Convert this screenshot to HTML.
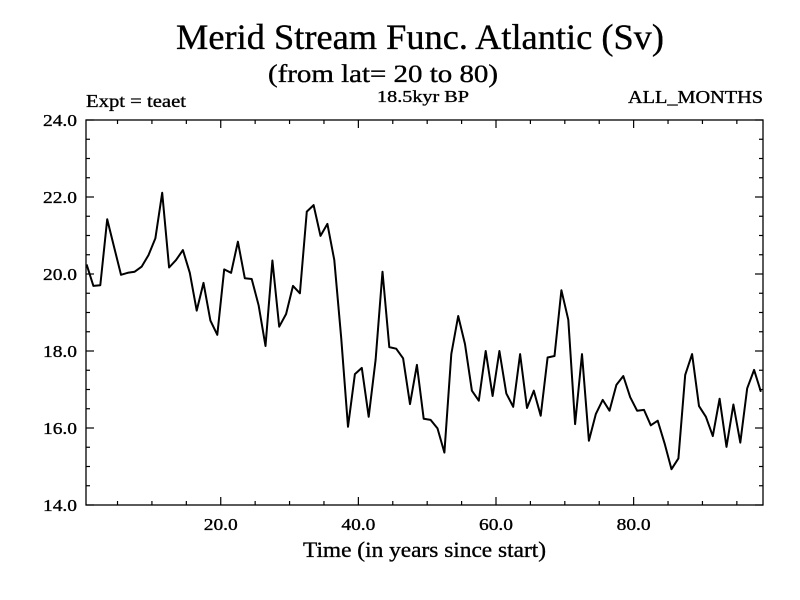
<!DOCTYPE html>
<html><head><meta charset="utf-8"><style>
html,body{margin:0;padding:0;background:#fff;}
svg{display:block;font-family:"Liberation Serif",serif;}
svg text{stroke:#000;stroke-width:0.35px;}
</style></head><body>
<svg id="chart" width="800" height="600" xmlns="http://www.w3.org/2000/svg">
<rect width="800" height="600" fill="#fff"/>
<text x="176" y="49" font-size="36" textLength="488" lengthAdjust="spacingAndGlyphs">Merid Stream Func. Atlantic (Sv)</text>
<text x="268" y="82" font-size="25" textLength="230" lengthAdjust="spacingAndGlyphs">(from lat= 20 to 80)</text>
<text x="86" y="107" font-size="18" textLength="100" lengthAdjust="spacingAndGlyphs">Expt = teaet</text>
<text x="377" y="102" font-size="17" textLength="92" lengthAdjust="spacingAndGlyphs">18.5kyr BP</text>
<text x="628" y="103" font-size="18" textLength="135" lengthAdjust="spacingAndGlyphs">ALL_MONTHS</text>
<text x="303" y="557" font-size="22" textLength="243" lengthAdjust="spacingAndGlyphs">Time (in years since start)</text>
<g id="axes"></g>
<rect x="86" y="120" width="677" height="385" fill="none" stroke="#000" stroke-width="1.3"/>
<path id="series" fill="none" stroke="#000" stroke-width="2" stroke-linejoin="round"/>
</svg>
<script>
const values = [20.25,19.69,19.71,21.42,20.70,19.98,20.03,20.06,20.19,20.49,20.93,22.11,20.17,20.36,20.62,20.03,19.05,19.77,18.79,18.42,20.12,20.03,20.84,19.89,19.87,19.19,18.13,20.35,18.63,18.96,19.69,19.50,21.62,21.79,20.99,21.30,20.36,18.34,16.03,17.40,17.56,16.29,17.77,20.06,18.10,18.06,17.81,16.62,17.64,16.24,16.21,15.99,15.36,17.92,18.91,18.18,16.97,16.71,18.00,16.83,18.00,16.90,16.55,17.92,16.52,16.97,16.32,17.83,17.87,19.58,18.81,16.10,17.92,15.67,16.36,16.73,16.45,17.12,17.35,16.80,16.45,16.47,16.07,16.19,15.60,14.93,15.21,17.38,17.92,16.57,16.29,15.79,16.76,15.51,16.61,15.62,17.03,17.51,16.94];
const xTicks = [20, 40, 60, 80];
const xTickLabels = ["20.0","40.0","60.0","80.0"];
const yTicks = [14, 16, 18, 20, 22, 24];
const yTickLabels = ["14.0","16.0","18.0","20.0","22.0","24.0"];
const xMin = 0.42, xMax = 98.8, yMin = 14, yMax = 24;
const L = 86, R = 763, T = 120, B = 505;
function xs(t){ return L + (t - xMin) / (xMax - xMin) * (R - L); }
function ys(v){ return B - (v - yMin) / (yMax - yMin) * (B - T); }
const NS = "http://www.w3.org/2000/svg";
const axes = document.getElementById('axes');
function line(x1,y1,x2,y2,name){
  const l = document.createElementNS(NS,'line');
  l.setAttribute('x1',x1);l.setAttribute('y1',y1);l.setAttribute('x2',x2);l.setAttribute('y2',y2);
  l.setAttribute('stroke','#000');l.setAttribute('stroke-width','1.2');
  
  
  axes.appendChild(l);
}
function text(x,y,s,anchor,name){
  const t = document.createElementNS(NS,'text');
  t.setAttribute('x',x);t.setAttribute('y',y);t.setAttribute('font-size','17');
  t.setAttribute('text-anchor',anchor);
  t.setAttribute('textLength','34');t.setAttribute('lengthAdjust','spacingAndGlyphs');
  t.textContent=s;
  
  
  axes.appendChild(t);
}
for(let t=5;t<xMax;t+=5){
  const x = xs(t), major = (t%20===0), len = major?8:4;
  line(x,B,x,B-len,'x-tick');
  line(x,T,x,T+len,'x-tick-top');
}
xTicks.forEach((t,i)=>text(xs(t),530,xTickLabels[i],'middle','x-tick-label'));
for(let v=yMin;v<=yMax+0.001;v+=0.5){
  const y = ys(v), major = Math.abs(v-Math.round(v))<0.01 && Math.round(v)%2===0, len = major?8:4;
  line(L,y,L+len,y,'y-tick');
  line(R,y,R-len,y,'y-tick-right');
}
yTicks.forEach((v,i)=>text(77,ys(v)+6,yTickLabels[i],'end','y-tick-label'));
document.getElementById('series').setAttribute('d', values.map((v,i)=>(i?'L':'M')+xs(0.5+i).toFixed(1)+','+ys(v).toFixed(1)).join(''));
</script>
</body></html>
